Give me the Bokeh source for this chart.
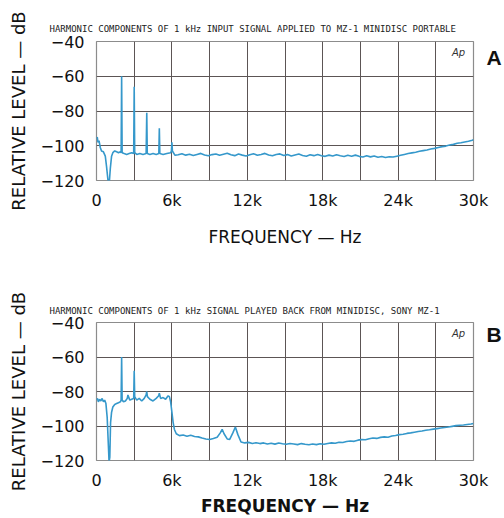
from bokeh.plotting import figure
from bokeh.models import Range1d, FixedTicker, Label, LinearAxis
from bokeh.layouts import column
from bokeh.embed import file_html
from bokeh.resources import INLINE

# ---------------- data ----------------
freq_a = [0, 60, 120, 200, 300, 400, 550, 700, 800, 900, 960, 1020, 1100, 1200, 1300, 1450,
          1600, 1750, 1900, 1960, 2000, 2040, 2200, 2400, 2600, 2800, 2960, 3000, 3040, 3200,
          3450, 3700, 3950, 4000, 4040, 4250, 4500, 4750, 4960, 5000, 5040, 5300, 5600, 5900,
          5960, 6000, 6040, 6250, 6500, 6800, 7100, 7400, 7700, 8000, 8300, 8600, 8900, 9200,
          9500, 9800, 10100, 10400, 10700, 11000, 11300, 11600, 11900, 12200, 12500, 12800,
          13100, 13400, 13700, 14000, 14300, 14600, 14900, 15200, 15500, 15800, 16100, 16400,
          16700, 17000, 17300, 17600, 17900, 18200, 18500, 18800, 19100, 19400, 19700, 20000,
          20300, 20600, 20900, 21200, 21500, 21800, 22100, 22400, 22700, 23000, 23300, 23600,
          23900, 24200, 24500, 24800, 25100, 25400, 25700, 26000, 26300, 26600, 26900, 27200,
          27500, 27800, 28100, 28400, 28700, 29000, 29300, 29600, 29900, 30000]
level_a = [-96, -95, -98, -97, -101, -103, -103.5, -106, -112, -119, -122.5, -121, -113, -106,
           -104, -103, -103.5, -104, -103.5, -104, -60, -104, -104.5, -105, -104.5, -104,
           -104.5, -66, -104, -105, -104.5, -105, -104.5, -81, -104.5, -105, -104.5, -105,
           -104.5, -90, -104.5, -105, -104.5, -104, -103, -98, -103, -105.5, -105.2, -104.6,
           -105.4, -104.9, -105.6, -105.0, -104.4, -105.3, -105.8, -105.1, -104.7, -105.5,
           -104.9, -104.3, -105.2, -105.7, -104.8, -105.4, -105.9, -105.2, -104.6, -105.5,
           -105.0, -104.4, -105.3, -105.8, -105.0, -104.7, -105.6, -105.1, -105.9, -105.3,
           -104.8, -105.6, -106.0, -105.2, -105.7, -105.0, -105.8, -106.1, -105.4, -105.9,
           -105.2, -105.8, -106.2, -105.5, -106.0, -105.4, -106.1, -106.5, -105.8, -106.4,
           -105.9, -106.6, -106.2, -106.8, -106.3, -106.5, -106.0, -105.5, -105.0, -104.5,
           -104.1, -103.7, -103.2, -102.8, -102.4, -101.9, -101.5, -101.0, -100.5, -100.2,
           -99.6, -99.2, -98.6, -98.3, -97.8, -97.4, -96.8, -96.5]

freq_b = [0, 80, 150, 250, 350, 450, 550, 650, 750, 850, 950, 1000, 1060, 1120, 1200, 1300,
          1450, 1600, 1750, 1900, 1960, 2000, 2040, 2150, 2300, 2450, 2500, 2650, 2800, 2960,
          3000, 3040, 3200, 3400, 3600, 3800, 3950, 4000, 4050, 4250, 4500, 4750, 4950, 5000,
          5100, 5300, 5500, 5700, 5800, 5900, 6000, 6100, 6200, 6350, 6600, 6900, 7200, 7500,
          7800, 8100, 8400, 8700, 9000, 9300, 9600, 9850, 10000, 10150, 10400, 10600, 10850,
          11050, 11250, 11500, 11800, 12100, 12400, 12700, 13000, 13300, 13600, 13900, 14200,
          14500, 14800, 15100, 15400, 15700, 16000, 16300, 16600, 16900, 17200, 17500, 17800,
          18100, 18400, 18700, 19000, 19300, 19600, 19900, 20200, 20500, 20800, 21100, 21400,
          21700, 22000, 22300, 22600, 22900, 23200, 23500, 23800, 24100, 24400, 24700, 25000,
          25300, 25600, 25900, 26200, 26500, 26800, 27100, 27400, 27700, 28000, 28300, 28600,
          28900, 29200, 29500, 29800, 30000]
level_b = [-85, -84, -86, -84.5, -85.5, -84, -86, -85, -87, -95, -112, -121, -118, -98, -92,
           -89, -87.5, -87, -86.5, -86, -85, -60, -85, -86, -85.5, -84, -82, -85, -84.5, -84,
           -68, -83, -85, -84, -85.5, -84, -82, -80, -83, -84.5, -85.5, -84, -82.5, -81, -84,
           -83.5, -84.5, -82.5, -83, -86, -92, -98, -102, -104.5, -105.6, -105.2, -105.9,
           -105.4, -106.1, -106.3, -107.0, -107.5, -107.8, -107.2, -106.5, -104, -101.9,
           -104.5, -107.5, -107.8, -104, -100.6, -105, -109.3, -109.8, -109.5, -110.1, -109.7,
           -110.2, -109.8, -110.4, -110.0, -110.5, -109.9, -110.3, -110.6, -110.1, -110.4,
           -110.8, -110.2, -110.6, -110.9, -110.4, -110.8, -110.3, -110.6, -110.1, -109.8,
           -110.0, -109.4, -109.6, -109.0, -108.7, -108.9, -108.2, -107.9, -108.0, -107.4,
           -107.0, -107.2, -106.6, -106.3, -106.5, -105.8, -105.5, -105.0, -104.8, -104.3,
           -104.0, -103.6, -103.2, -102.9, -102.5, -102.2, -101.8, -101.5, -101.2, -100.9,
           -100.6, -100.2, -99.8, -99.6, -99.4, -99.1, -98.8, -98.5]

x_ticks = [0, 6000, 12000, 18000, 24000, 30000]
x_tick_labels = ["0", "6k", "12k", "18k", "24k", "30k"]
x_grid = [0, 3000, 6000, 9000, 12000, 15000, 18000, 21000, 24000, 27000, 30000]
y_ticks = [-40, -60, -80, -100, -120]
y_tick_labels = ["\u221240", "\u221260", "\u221280", "\u2212100", "\u2212120"]

title_a = "HARMONIC COMPONENTS OF 1 kHz INPUT SIGNAL APPLIED TO MZ-1 MINIDISC PORTABLE"
title_b = "HARMONIC COMPONENTS OF 1 kHz SIGNAL PLAYED BACK FROM MINIDISC, SONY MZ-1"
y_label = "RELATIVE LEVEL \u2014 dB"
x_label = "FREQUENCY \u2014 Hz"
instrument_mark = "Ap"

LINE = "#3598cb"
GRID = "#5c5555"
FONT = "DejaVu Sans"


def panel(freq, level, title, letter, letter_at, height, top, bottom, title_sd,
          tick_sd, lab_sd, xlab_style, ap_y):
    p = figure(width=504, height=height, output_backend="svg", toolbar_location=None,
               x_range=Range1d(0, 30000), y_range=Range1d(-120, -40),
               min_border_left=96, min_border_right=31, min_border_top=top,
               min_border_bottom=bottom, title=title)
    p.title.text_font = "DejaVu Sans Mono"
    p.title.text_font_size = "9px"
    p.title.text_font_style = "normal"
    p.title.text_color = "#222222"
    p.title.align = "left"
    p.title.offset = -47
    p.title.standoff = title_sd

    p.line(freq, level, line_color=LINE, line_width=1.6)

    p.outline_line_color = "#8c8c8c"
    p.outline_line_width = 1.2
    p.xgrid.ticker = FixedTicker(ticks=x_grid)
    p.ygrid.ticker = FixedTicker(ticks=y_ticks)
    for g in (p.xgrid, p.ygrid):
        g.grid_line_color = GRID
        g.grid_line_width = 1

    xa = p.xaxis[0]
    xa.ticker = FixedTicker(ticks=x_ticks)
    xa.major_label_overrides = {t: s for t, s in zip(x_ticks, x_tick_labels)}
    xa.axis_line_color = None
    xa.major_tick_line_color = None
    xa.minor_tick_line_color = None
    xa.major_label_text_font = FONT
    xa.major_label_text_font_size = "16px"
    xa.major_label_text_color = "#111111"
    xa.major_label_standoff = tick_sd
    xa.axis_label = x_label
    xa.axis_label_text_font = FONT
    xa.axis_label_text_font_size = "17px"
    xa.axis_label_text_font_style = xlab_style
    xa.axis_label_text_color = "#111111"
    xa.axis_label_standoff = lab_sd

    ya = p.yaxis[0]
    ya.ticker = FixedTicker(ticks=y_ticks)
    ya.major_label_overrides = {t: s for t, s in zip(y_ticks, y_tick_labels)}
    ya.axis_line_color = None
    ya.major_tick_line_color = None
    ya.minor_tick_line_color = None
    ya.major_label_text_font = FONT
    ya.major_label_text_font_size = "16px"
    ya.major_label_text_color = "#111111"
    ya.major_label_standoff = 6
    ya.axis_label = y_label
    ya.axis_label_text_font = FONT
    ya.axis_label_text_font_size = "18px"
    ya.axis_label_text_font_style = "normal"
    ya.axis_label_text_color = "#111111"
    ya.axis_label_standoff = 9

    # panel letter (A / B) as a label on a right-hand axis, outside the frame
    ra = LinearAxis(ticker=FixedTicker(ticks=[letter_at]),
                    major_label_overrides={letter_at: letter})
    ra.axis_line_color = None
    ra.major_tick_line_color = None
    ra.minor_tick_line_color = None
    ra.major_label_text_font = "Liberation Sans"
    ra.major_label_text_font_style = "bold"
    ra.major_label_text_font_size = "21px"
    ra.major_label_text_color = "#111111"
    ra.major_label_standoff = 7
    p.add_layout(ra, "right")

    p.add_layout(Label(x=362, y=ap_y, x_units="screen", y_units="screen", text=instrument_mark,
                       text_font=FONT, text_font_size="10px", text_font_style="italic",
                       text_color="#333333", text_align="center", text_baseline="middle"))
    return p


pa = panel(freq_a, level_a, title_a, "A", -49, 258, 41, 78, 15, 4, 14, "normal", 128)
pb = panel(freq_b, level_b, title_b, "B", -47, 260, 64, 58, 14, 4, 3, "bold", 127)

layout = column(pa, pb, spacing=0)
open("out.html", "w").write(file_html(layout, INLINE))
